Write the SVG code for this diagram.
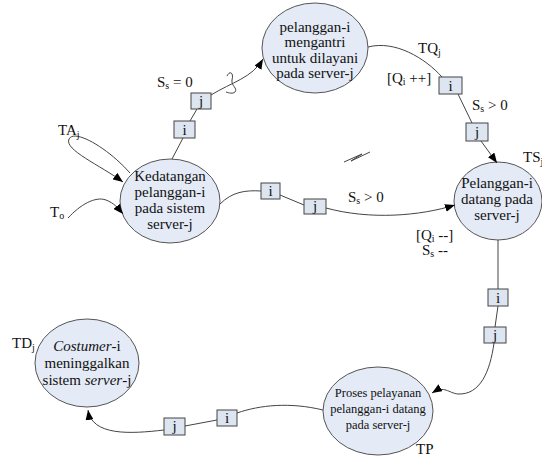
<svg xmlns="http://www.w3.org/2000/svg" width="542" height="461" viewBox="0 0 542 461" font-family="'Liberation Serif','DejaVu Serif',serif">
<style>
text{font-family:"Liberation Serif","DejaVu Serif",serif;font-size:15px;fill:#111}
.node ellipse{fill:#e4eaf6;stroke:#555;stroke-width:1}
.conn path,.conn line{fill:none;stroke:#444;stroke-width:1}
.box rect{fill:#dde5f1;stroke:#444;stroke-width:1}
.box text{text-anchor:middle}
.ctr{text-anchor:middle}
.sm{font-size:12.5px}
.sub{font-size:10px}
</style>
<defs>
<marker id="ah" markerWidth="10" markerHeight="8" refX="10" refY="4" orient="auto" markerUnits="userSpaceOnUse"><path d="M0,0 L10,4 L0,8 z" fill="#000"/></marker>
</defs>

<g id="n-antri" class="node">
<ellipse cx="315" cy="48" rx="53" ry="45"/>
<text class="ctr" x="315" y="32">pelanggan-i</text>
<text class="ctr" x="315" y="47">mengantri</text>
<text class="ctr" x="315" y="63">untuk dilayani</text>
<text class="ctr" x="315" y="78">pada server-j</text>
</g>

<g id="n-kedatangan" class="node">
<ellipse cx="170" cy="201" rx="50" ry="42"/>
<text class="ctr" x="170" y="181">Kedatangan</text>
<text class="ctr" x="170" y="197">pelanggan-i</text>
<text class="ctr" x="170" y="213">pada sistem</text>
<text class="ctr" x="170" y="229">server-j</text>
</g>

<g id="n-datang" class="node">
<ellipse cx="498" cy="201" rx="44" ry="39"/>
<text class="ctr" x="497" y="188">Pelanggan-i</text>
<text class="ctr" x="497" y="204">datang pada</text>
<text class="ctr" x="497" y="220">server-j</text>
</g>

<g id="n-proses" class="node">
<ellipse cx="378" cy="411" rx="55" ry="44"/>
<text class="ctr sm" x="378" y="397">Proses pelayanan</text>
<text class="ctr sm" x="378" y="413">pelanggan-i datang</text>
<text class="ctr sm" x="378" y="429">pada server-j</text>
</g>

<g id="n-keluar" class="node">
<ellipse cx="87" cy="363" rx="52" ry="44"/>
<text class="ctr" x="87" y="351"><tspan font-style="italic">Costumer</tspan>-i</text>
<text class="ctr" x="87" y="368">meninggalkan</text>
<text class="ctr" x="87" y="385">sistem <tspan font-style="italic">server</tspan>-j</text>
</g>

<g id="connectors" class="conn">
<path d="M130,173 C110,150 75,128 69,139 C64,150 100,165 123,182" marker-end="url(#ah)"/>
<path d="M68,218 C80,205 95,196 106,200 C114,203 118,208 123,214" marker-end="url(#ah)"/>
<line x1="172" y1="159" x2="183" y2="138"/>
<line x1="190" y1="121" x2="197" y2="109"/>
<path d="M211,95 C232,82 252,78 263,59" marker-end="url(#ah)"/>
<path d="M368,47 C395,40 425,58 442,77"/>
<line x1="458" y1="94" x2="472" y2="123"/>
<line x1="481" y1="141" x2="497" y2="163" marker-end="url(#ah)"/>
<path d="M220,204 C232,192 245,190 261,191"/>
<line x1="280" y1="195" x2="304" y2="205"/>
<path d="M326,208 C370,220 420,216 455,205" marker-end="url(#ah)"/>
<line x1="498" y1="240" x2="498" y2="289"/>
<line x1="498" y1="306" x2="495" y2="327"/>
<path d="M494,343 C490,372 480,395 458,394 C448,393 445,385 432,393" marker-end="url(#ah)"/>
<path d="M323,410 C290,402 260,405 237,413"/>
<line x1="217" y1="420" x2="185" y2="426"/>
<path d="M164,430 C130,434 92,436 88,410" marker-end="url(#ah)"/>
<path d="M227,76 C230,70 234,73 232,80 C231,86 238,88 235,92 C233,94 229,93 226,92"/>
<path d="M344,162 L362,154 L351,161 L370,152"/>
</g>

<g id="boxes" class="box">
<rect x="174" y="121" width="21" height="17"/><text x="184.5" y="135">i</text>
<rect x="191" y="93" width="20" height="16"/><text x="201" y="106">j</text>
<rect x="439" y="77" width="23" height="17"/><text x="450.5" y="91">i</text>
<rect x="466" y="123" width="22" height="18"/><text x="477" y="137">j</text>
<rect x="261" y="183" width="19" height="16"/><text x="270.5" y="196">i</text>
<rect x="304" y="199" width="22" height="15"/><text x="315" y="211">j</text>
<rect x="488" y="289" width="20" height="17"/><text x="498" y="303">i</text>
<rect x="484" y="327" width="22" height="16"/><text x="495" y="340">j</text>
<rect x="217" y="410" width="20" height="16"/><text x="227" y="423">i</text>
<rect x="164" y="418" width="21" height="17"/><text x="174.5" y="431">j</text>
</g>

<g id="labels">
<text x="157" y="87">S<tspan class="sub" dy="2">s</tspan><tspan dy="-2"> = 0</tspan></text>
<text x="58" y="135">TA<tspan class="sub" dy="3">j</tspan></text>
<text x="50" y="217">T<tspan class="sub" dy="2">o</tspan></text>
<text x="418" y="53">TQ<tspan class="sub" dy="3">j</tspan></text>
<text x="387" y="83">[Q<tspan class="sub" dy="2">i</tspan><tspan dy="-2"> ++]</tspan></text>
<text x="472" y="110">S<tspan class="sub" dy="2">s</tspan><tspan dy="-2"> &gt; 0</tspan></text>
<text x="523" y="162">TS<tspan class="sub" dy="3">j</tspan></text>
<text x="348" y="202">S<tspan class="sub" dy="2">s</tspan><tspan dy="-2"> &gt; 0</tspan></text>
<text x="416" y="240">[Q<tspan class="sub" dy="2">i</tspan><tspan dy="-2"> --]</tspan></text>
<text x="422" y="255">S<tspan class="sub" dy="2">s</tspan><tspan dy="-2"> --</tspan></text>
<text x="12" y="348">TD<tspan class="sub" dy="3">j</tspan></text>
<text x="416" y="454">TP</text>
</g>
</svg>
